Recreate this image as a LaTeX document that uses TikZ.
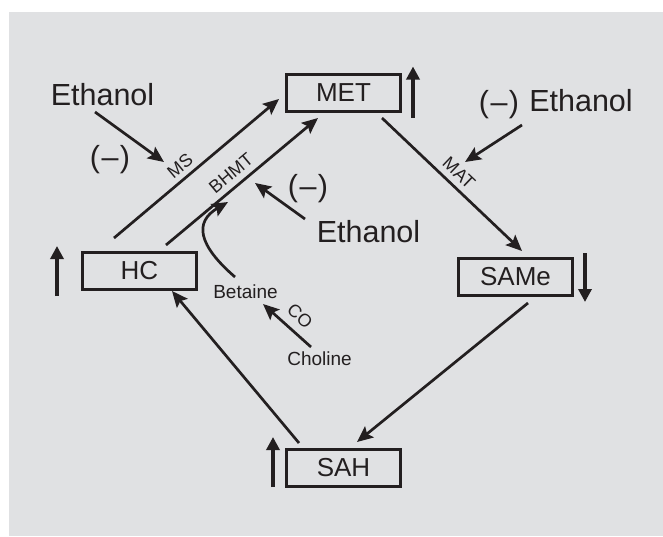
\documentclass[tikz,border=0pt]{standalone}
\usepackage{fontspec}
\setmainfont{Liberation Sans}
\usetikzlibrary{arrows.meta}
\definecolor{bggray}{HTML}{E0E1E3}
\definecolor{ink}{HTML}{231F20}
\begin{document}
\begin{tikzpicture}[x=1pt,y=-1pt,
  boxnode/.style={draw=ink,line width=3pt,minimum width=114pt,minimum height=37pt,inner sep=0pt,
    font=\fontsize{26}{28}\selectfont,text=ink},
  conn/.style={draw=ink,line width=2.7pt,-{Stealth[length=16pt,width=14pt,inset=3pt]}},
  ind/.style={draw=ink,line width=4.5pt,-{Triangle[length=13pt,width=13pt]}},
  bigtxt/.style={font=\fontsize{30.5}{32}\selectfont,text=ink,anchor=base,inner sep=0pt},
  midtxt/.style={font=\fontsize{19}{21}\selectfont,text=ink,anchor=base,inner sep=0pt},
  smalltxt/.style={font=\fontsize{18}{20}\selectfont,text=ink,inner sep=0pt}]
\useasboundingbox (0,0) rectangle (663,536);
\fill[bggray] (9,12) rectangle (663,536);

% boxes
\node[boxnode] (MET) at (343.5,92.5) {MET};
\node[boxnode] (SAMe) at (515.5,277) {SAMe};
\node[boxnode] (HC) at (139.5,271) {HC};
\node[boxnode] (SAH) at (343.5,468) {SAH};

% indicator arrows
\draw[ind] ([xshift=11pt,yshift=-5pt]MET.south east) -- ([xshift=11pt,yshift=6pt]MET.north east);
\draw[ind] ([xshift=11pt,yshift=4pt]SAMe.north east) -- ([xshift=11pt,yshift=-5pt]SAMe.south east);
\draw[ind] ([xshift=-24pt,yshift=-5pt]HC.south west) -- ([xshift=-24pt,yshift=5pt]HC.north west);
\draw[ind] ([xshift=-12pt,yshift=1pt]SAH.south west) -- ([xshift=-12pt,yshift=11pt]SAH.north west);

% connector end points
\coordinate (ms1) at (114,238);  \coordinate (ms2) at (279,99);
\coordinate (bh1) at (166,245);  \coordinate (bh2) at (318,118);
\coordinate (ma1) at (382,118);  \coordinate (ma2) at (522,251);
\coordinate (ss1) at (528,303);  \coordinate (ss2) at (357,442);
\coordinate (sh1) at (299,443);  \coordinate (sh2) at (172,291);

\draw[conn] (ms1) -- (ms2);
\draw[conn] (bh1) -- (bh2);
\draw[conn] (ma1) -- (ma2);
\draw[conn] (ss1) -- (ss2);
\draw[conn] (sh1) -- (sh2);

% ethanol texts
\node[bigtxt] (eth1) at (102.5,105) {Ethanol};
\node[bigtxt] (neg1) at (110,167) {(\kern1.5pt–\kern1.5pt)};
\node[bigtxt] (eth2) at (368.5,242) {Ethanol};
\node[bigtxt] (neg2) at (308,196) {(\kern1.5pt–\kern1.5pt)};
\node[bigtxt] (eth3) at (581,111) {Ethanol};
\node[bigtxt] (neg3) at (499,112) {(\kern1.5pt–\kern1.5pt)};

\coordinate (e1a) at (95,112);  \coordinate (e1b) at (164,162);
\coordinate (e2a) at (305,219); \coordinate (e2b) at (255,183);
\coordinate (e3a) at (522,125); \coordinate (e3b) at (465,162);
\draw[conn] (e1a) -- (e1b);
\draw[conn] (e2a) -- (e2b);
\draw[conn] (e3a) -- (e3b);

% enzyme labels
\node[smalltxt,rotate=40] (lms) at (180,166) {MS};
\node[smalltxt,rotate=40] (lbh) at (231,173) {BHMT};
\node[smalltxt,rotate=-43.5] (lma) at (459,173) {MAT};
\node[smalltxt,rotate=-42] (lco) at (300,316) {CO};

% betaine / choline
\node[midtxt] (bet) at (245.5,298) {Betaine};
\node[midtxt] (cho) at (319.5,365) {Choline};
\coordinate (bt1) at (235,277); \coordinate (bt2) at (228,202);
\draw[conn] (bt1) .. controls (198,245) and (194,222) .. (bt2);
\coordinate (co1) at (311,347); \coordinate (co2) at (263,304);
\draw[conn] (co1) -- (co2);
\end{tikzpicture}
\end{document}
